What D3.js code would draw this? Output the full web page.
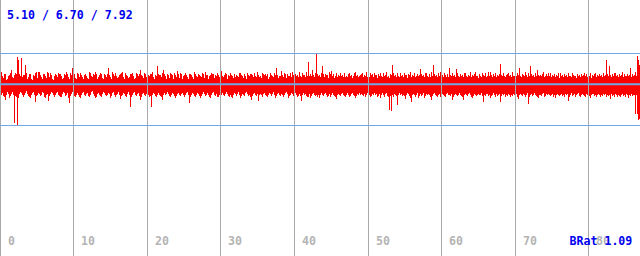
<!DOCTYPE html>
<html><head><meta charset="utf-8">
<script src="https://cdn.jsdelivr.net/npm/d3@7"></script>
<style>html,body{margin:0;padding:0;background:#fff;}svg{display:block;}</style>
</head><body><svg id="c" width="640" height="256"></svg>
<script>
// summary statistics (min / avg / max) and bit ratio
const statMin = 5.10, statAvg = 6.70, statMax = 7.92;
const bitRatio = 1.09;
const tickValues = [0,10,20,30,40,50,60,70,80];
const timeSpan = 87;
// per-column maximum of samples
const hiValues = [
7.26,7.18,7.02,6.96,7.10,7.12,6.90,6.94,7.04,7.08,7.14,7.26,7.00,6.96,7.06,7.14,7.10,7.77,7.65,7.12,
7.04,7.73,7.00,7.08,7.06,7.46,7.16,6.92,6.98,7.10,7.12,6.94,6.90,7.06,7.02,7.14,7.18,6.96,7.18,7.20,
7.08,6.98,6.94,7.10,7.12,7.02,6.96,7.20,7.14,7.00,7.14,7.08,6.92,6.90,7.04,7.12,7.06,6.98,7.16,7.10,
7.12,7.04,6.92,6.96,7.10,7.06,7.18,7.12,6.98,6.94,7.14,7.08,7.34,7.02,7.10,6.96,6.92,7.16,7.12,7.00,
7.14,7.06,7.00,6.94,7.08,7.12,7.04,6.96,6.92,7.18,7.14,7.02,6.98,7.10,7.06,7.20,7.12,6.94,6.98,7.06,
7.16,7.10,6.96,6.92,7.12,7.06,7.00,7.10,7.34,7.08,6.98,6.94,7.18,7.12,7.02,7.14,7.04,6.96,7.00,7.08,
7.10,7.14,7.18,6.98,6.94,7.14,7.08,7.02,6.96,7.00,7.12,7.10,7.14,7.04,6.92,6.96,7.16,7.10,7.04,7.10,
7.26,7.08,7.02,6.96,7.16,7.10,6.98,6.94,7.08,7.04,7.10,7.12,7.18,7.00,6.94,7.08,7.02,7.42,7.12,7.06,
7.06,6.98,7.14,7.26,7.10,7.02,6.94,7.12,7.08,6.96,7.16,7.12,7.08,6.92,7.14,7.06,7.00,7.22,7.10,6.96,
7.16,7.10,6.94,7.02,7.08,7.14,7.06,6.98,6.92,7.12,7.10,7.06,6.98,6.94,7.18,7.12,7.04,6.98,7.10,7.06,
7.04,7.00,7.16,7.10,6.96,7.18,7.06,7.08,6.94,7.02,7.06,7.14,7.10,7.12,6.96,7.06,7.02,7.16,7.08,6.98,
7.10,7.22,7.04,6.98,7.06,7.16,7.10,6.94,7.08,7.02,7.14,7.06,7.04,6.96,7.12,7.00,7.08,7.04,6.98,7.16,
7.14,7.06,7.04,6.96,7.12,7.02,6.94,7.16,7.08,7.02,7.12,7.10,7.08,6.98,7.14,7.02,6.98,7.18,7.08,7.00,
7.02,6.96,7.16,7.10,7.06,7.12,7.02,7.10,6.94,6.98,7.16,7.08,7.04,7.00,7.14,7.06,7.34,7.06,6.96,7.02,
7.04,7.22,7.08,6.98,7.16,7.10,6.96,7.10,7.02,7.04,7.14,7.00,7.18,7.06,6.96,7.12,7.04,7.06,7.00,7.18,
7.02,6.98,7.14,7.08,7.08,7.00,7.18,7.02,7.57,7.04,7.10,7.02,7.26,7.06,7.00,7.16,7.89,7.12,7.04,7.08,
7.00,7.16,7.42,7.10,6.98,7.12,7.06,7.06,6.96,7.18,7.10,7.22,7.02,7.10,6.96,7.04,7.16,7.00,7.08,7.04,
7.14,7.04,7.08,7.00,7.16,7.00,7.04,6.98,7.12,7.14,7.02,7.06,6.96,7.02,7.16,7.18,7.04,7.08,7.00,7.04,
7.06,7.12,7.16,6.98,7.06,7.02,7.18,6.98,7.02,7.00,7.14,7.08,7.10,6.98,7.16,7.06,7.06,6.96,7.12,7.04,
7.14,7.02,7.00,7.16,7.04,7.08,7.18,7.00,7.04,6.96,7.12,7.06,7.46,7.16,7.02,7.06,6.98,7.14,7.02,7.00,
7.14,7.04,7.08,6.98,7.16,7.06,7.06,6.96,7.12,7.06,7.18,7.00,7.08,7.04,7.16,7.00,7.04,7.10,7.02,7.06,
7.30,7.12,7.04,7.06,6.98,7.16,7.14,7.02,7.00,7.10,7.00,7.18,7.04,7.46,7.12,7.04,7.06,6.98,7.16,7.02,
7.18,7.02,7.08,6.98,7.16,7.06,7.00,7.10,7.00,7.34,7.06,7.02,7.14,7.04,7.08,7.00,7.30,7.16,7.02,7.00,
7.10,7.04,7.06,6.98,7.16,7.14,7.02,7.00,7.08,7.04,7.18,6.98,7.06,7.04,7.12,7.18,7.02,7.04,6.96,7.10,
7.02,7.00,7.14,7.08,7.04,7.16,6.98,7.04,7.18,7.02,7.18,7.06,7.00,7.12,7.04,7.16,6.98,7.06,7.04,7.12,
7.50,7.08,7.02,7.16,7.02,6.98,7.06,7.12,7.14,7.04,7.08,7.00,7.18,7.02,7.02,7.10,7.04,7.16,7.06,7.34,
7.02,7.00,7.12,7.06,7.04,7.18,7.08,7.00,7.16,7.04,7.42,7.10,7.04,7.06,6.98,7.16,7.02,7.26,7.08,7.02,
7.06,7.04,7.12,7.18,7.00,7.04,7.10,7.02,7.16,7.04,7.14,6.98,7.06,7.04,7.12,7.00,7.08,7.04,7.16,6.96,
7.14,7.02,7.06,6.98,7.12,7.04,7.08,7.00,7.16,7.04,7.04,6.98,7.14,7.08,7.02,7.02,6.96,7.12,7.04,7.06,
7.00,7.10,7.04,7.06,7.14,7.02,7.12,6.98,7.04,7.04,7.16,6.96,7.06,7.02,7.10,7.14,7.00,7.08,7.04,7.12,
7.02,7.06,6.98,7.16,7.04,7.08,7.65,7.12,7.04,7.42,7.06,7.00,7.10,7.04,7.16,7.14,7.02,7.06,6.98,7.12,
7.04,7.08,7.18,7.00,7.12,7.02,7.02,7.10,7.04,7.06,7.34,7.00,7.12,7.04,7.08,7.18,7.02,7.81,7.65,7.46
];
// per-column minimum of samples
const loValues = [
5.22,6.30,6.36,6.24,6.20,6.08,6.28,6.40,6.34,6.16,6.26,6.32,6.42,6.30,5.18,6.26,6.22,5.10,6.18,6.34,
6.40,6.36,6.28,6.22,6.30,6.38,6.44,6.32,6.26,6.20,6.18,6.30,6.36,6.40,6.28,6.01,6.24,6.30,6.38,6.34,
6.26,6.30,6.42,6.36,6.22,6.18,6.28,6.34,6.05,6.24,6.32,6.40,6.36,6.28,6.20,6.30,6.38,6.42,6.30,6.24,
6.22,6.20,6.34,6.40,6.36,6.26,6.30,6.38,6.18,5.97,6.24,6.34,6.40,6.32,6.26,6.20,6.30,6.36,6.28,6.22,
6.18,6.28,6.36,6.40,6.30,6.24,6.32,6.38,6.26,6.20,6.30,6.40,6.44,6.34,6.24,6.16,6.22,6.32,6.38,6.30,
6.26,6.22,6.34,6.40,6.36,6.28,6.24,6.30,6.38,6.32,6.18,6.26,6.36,6.42,6.30,6.20,6.28,6.34,6.40,6.28,
6.12,6.24,6.30,6.38,6.34,6.26,6.22,6.32,6.40,6.30,5.81,6.22,6.28,6.36,6.40,6.30,6.24,6.32,6.38,6.26,
6.08,6.22,6.32,6.38,6.30,6.24,6.34,6.40,6.30,6.22,6.26,5.81,6.30,6.38,6.34,6.26,6.20,6.30,6.36,6.28,
6.24,6.20,6.08,6.30,6.36,6.28,6.34,6.40,6.32,6.24,6.22,6.30,6.38,6.34,6.26,6.16,6.24,6.32,6.38,6.30,
6.26,6.32,6.38,6.30,6.22,6.28,6.36,6.40,6.28,5.97,6.22,6.30,6.36,6.34,6.26,6.20,6.30,6.38,6.32,6.24,
6.18,6.26,6.34,6.40,6.32,6.24,6.30,6.36,6.28,6.22,6.16,6.28,6.36,6.40,6.30,6.26,6.34,6.22,6.20,6.30,
6.18,6.28,6.36,6.30,6.24,6.32,6.40,6.34,6.26,6.20,6.28,6.22,6.16,6.30,6.38,6.32,6.26,6.34,6.40,6.30,
6.18,6.26,6.34,6.30,6.24,6.36,6.40,6.32,6.26,6.30,6.22,6.08,6.26,6.34,6.38,6.30,6.24,6.32,6.05,6.28,
6.34,6.28,6.22,6.32,6.38,6.30,6.24,6.20,6.30,6.36,6.32,6.26,6.34,6.40,6.28,6.16,6.24,6.32,6.38,6.30,
6.26,6.34,6.30,6.22,6.28,6.36,6.40,6.32,6.18,6.26,6.30,6.38,6.34,6.24,6.28,6.36,6.30,6.22,6.26,6.34,
6.24,6.05,6.30,6.36,6.28,6.34,6.26,6.20,6.22,6.32,6.16,6.26,6.34,6.38,6.30,6.24,6.28,6.22,6.30,6.16,
6.30,6.36,6.28,6.24,6.32,6.38,6.30,6.22,6.26,6.34,6.20,6.28,6.36,6.30,6.24,6.22,6.12,6.28,6.34,6.30,
6.26,6.32,6.38,6.30,6.24,6.20,6.30,6.36,6.28,6.22,6.26,6.34,6.38,6.30,6.24,6.16,6.26,6.34,6.30,6.36,
6.28,6.34,6.30,6.24,6.32,6.22,6.28,6.36,6.40,6.30,6.20,6.26,6.34,6.30,6.36,6.28,6.32,6.22,6.26,6.34,
6.16,6.30,6.36,6.28,6.22,6.32,6.38,6.24,6.20,5.69,6.26,5.65,6.30,6.22,6.34,6.30,6.24,5.89,6.30,6.36,
6.28,6.34,6.24,6.30,6.26,6.12,6.30,6.36,6.32,6.24,6.18,6.01,6.28,6.34,6.30,6.22,6.30,6.36,6.16,6.26,
6.32,6.26,6.30,6.36,6.16,6.24,6.32,6.28,6.34,6.30,6.22,6.08,6.24,6.32,6.36,6.30,6.26,6.20,6.30,6.34,
6.20,6.28,6.34,6.30,6.24,6.22,6.32,6.36,6.28,6.30,6.24,6.32,6.08,6.22,6.30,6.34,6.28,6.24,6.30,6.36,
6.30,6.26,6.22,6.08,6.30,6.34,6.28,6.24,6.32,6.36,6.28,6.22,6.16,6.26,6.32,6.30,6.24,6.30,6.34,6.28,
6.30,6.36,6.26,6.01,6.28,6.24,6.32,6.34,6.26,6.30,6.16,6.24,6.30,6.36,6.28,6.22,6.32,6.26,6.30,6.34,
6.01,6.26,6.32,6.28,6.34,6.22,6.30,6.24,6.32,6.28,6.20,6.30,6.26,6.34,6.30,6.24,6.32,6.22,6.12,6.28,
6.32,6.28,6.24,6.34,6.30,6.22,6.30,6.36,5.93,6.22,6.30,6.34,6.26,6.30,6.36,6.28,6.24,6.20,6.16,6.30,
6.28,6.24,6.32,6.36,6.20,6.26,6.32,6.28,6.34,6.30,6.24,6.28,6.32,6.22,6.30,6.16,6.28,6.34,6.30,6.24,
6.30,6.34,6.26,6.30,6.22,6.32,6.28,6.34,6.05,6.22,6.30,6.36,6.26,6.30,6.34,6.22,6.28,6.32,6.36,6.26,
6.20,6.28,6.34,6.30,6.24,6.22,6.32,6.30,6.36,6.26,6.16,6.28,6.32,6.34,6.24,6.30,6.22,6.30,6.34,6.28,
6.20,6.30,6.26,6.34,6.28,6.32,6.22,6.30,6.26,6.28,6.12,6.32,6.24,6.30,6.22,6.34,6.28,6.22,6.30,6.26,
6.20,6.28,6.34,6.26,6.30,6.22,6.32,6.30,6.16,6.28,6.24,6.34,6.26,6.30,6.28,5.57,6.30,5.57,5.30,5.34
];

const W = 640, H = 256;
const svg = d3.select("#c");
const idx = d3.range(hiValues.length);

const xTime = d3.scaleLinear().domain([0, timeSpan]).range([0, 640.5]);
const xCol = d3.scaleBand().domain(idx).range([0, W]).padding(0);
const y = d3.scaleLinear().domain([statMin, statMax]).range([125.5, 53.5]);

// bars (min..max per column)
svg.append("g").attr("shape-rendering", "crispEdges")
  .selectAll("rect").data(idx).join("rect")
  .attr("x", i => xCol(i))
  .attr("width", xCol.bandwidth())
  .attr("y", i => Math.round(y(hiValues[i])))
  .attr("height", i => Math.max(1, Math.round(y(loValues[i])) - Math.round(y(hiValues[i]))))
  .attr("fill", "#ff0000");

// vertical grid
svg.append("g").selectAll("line").data(tickValues).join("line")
  .attr("x1", d => Math.floor(xTime(d)) + 0.5).attr("x2", d => Math.floor(xTime(d)) + 0.5)
  .attr("y1", 0).attr("y2", H)
  .attr("stroke", "#aaaaaa").attr("stroke-width", 1);

// horizontal reference lines: min, max, avg
svg.append("g").selectAll("line").data([statMin, statMax]).join("line")
  .attr("x1", 0).attr("x2", W)
  .attr("y1", d => y(d)).attr("y2", d => y(d))
  .attr("stroke", "#6fa8e6").attr("stroke-width", 1);
svg.append("line")
  .attr("x1", 0).attr("x2", W)
  .attr("y1", y(statAvg) - 0.5).attr("y2", y(statAvg) - 0.5)
  .attr("stroke", "#6fa8e6").attr("stroke-width", 2);

// axis labels
const font = "'DejaVu Sans Mono', monospace";
svg.append("g").selectAll("text").data(tickValues).join("text")
  .attr("x", d => Math.floor(xTime(d)) + 8)
  .attr("y", 245)
  .attr("font-family", font).attr("font-size", "11.6px").attr("font-weight", "bold")
  .attr("fill", "#b4b4b4")
  .text(d => d);

svg.append("text")
  .attr("x", 7).attr("y", 19)
  .attr("font-family", font).attr("font-size", "11.6px").attr("font-weight", "bold")
  .attr("fill", "#0000ee")
  .text(`${statMin.toFixed(2)} / ${statAvg.toFixed(2)} / ${statMax.toFixed(2)}`);

svg.append("text")
  .attr("x", 569.5).attr("y", 245)
  .attr("font-family", font).attr("font-size", "11.6px").attr("font-weight", "bold")
  .attr("fill", "#0000ee")
  .text(`BRat ${bitRatio.toFixed(2)}`);
</script></body></html>
